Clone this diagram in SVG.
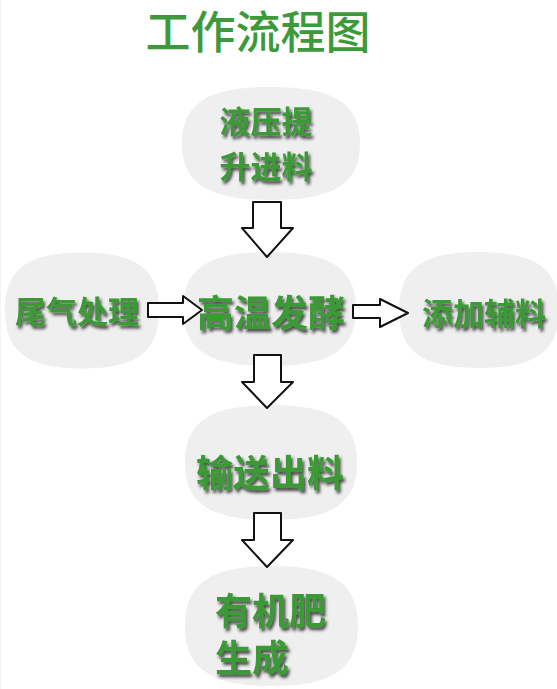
<svg xmlns="http://www.w3.org/2000/svg" width="557" height="689" viewBox="0 0 557 689">
<defs>
<path id="blob" d="M0,-1 C0.7,-1 1,-0.72 1,0 C1,0.72 0.7,1 0,1 C-0.7,1 -1,0.72 -1,0 C-1,-0.72 -0.7,-1 0,-1Z"/>
<filter id="sh" x="-10%" y="-20%" width="130%" height="150%">
<feDropShadow dx="2" dy="3" stdDeviation="1.8" flood-color="#222" flood-opacity="0.8"/>
</filter>
</defs>
<style>
.blob{fill:#efefef}
.lbl{font-family:"Noto Sans CJK SC","Noto Sans CJK JP",sans-serif;font-weight:bold;fill:#3b9a35;filter:url(#sh)}
.title{font-family:"Noto Sans CJK SC","Noto Sans CJK JP",sans-serif;font-weight:500;fill:#3c9a3a}
.arr{fill:#ffffff;stroke:#111;stroke-width:2;stroke-linejoin:round}
</style>
<rect width="557" height="689" fill="#ffffff"/>
<line x1="0.5" y1="0" x2="0.5" y2="689" stroke="#eef8ee" stroke-width="1"/>
<text class="title" x="258" y="49" font-size="45" text-anchor="middle">工作流程图</text>
<g id="node-hydraulic">
<use href="#blob" class="blob" transform="translate(271,143.5) scale(89,56.5)"/>
<text class="lbl" x="266" y="133" font-size="31" text-anchor="middle">液压提</text>
<text class="lbl" x="266" y="178" font-size="31" text-anchor="middle">升进料</text>
</g>
<g id="node-exhaust">
<use href="#blob" class="blob" transform="translate(82,310.5) scale(77,58)"/>
<text class="lbl" x="77" y="323" font-size="31" text-anchor="middle">尾气处理</text>
</g>
<g id="node-ferment">
<use href="#blob" class="blob" transform="translate(269.5,309) scale(86.5,57)"/>
<text class="lbl" x="271" y="327" font-size="37" text-anchor="middle">高温发酵</text>
</g>
<g id="node-additive">
<use href="#blob" class="blob" transform="translate(479,310) scale(80,58)"/>
<text class="lbl" x="484" y="325" font-size="31" text-anchor="middle">添加辅料</text>
</g>
<g id="node-output">
<use href="#blob" class="blob" transform="translate(271,462.5) scale(86,57.5)"/>
<text class="lbl" x="270" y="487" font-size="37" text-anchor="middle">输送出料</text>
</g>
<g id="node-fertilizer">
<use href="#blob" class="blob" transform="translate(271.5,626) scale(86.5,60)"/>
<text class="lbl" x="215" y="625" font-size="37">有机肥</text>
<text class="lbl" x="215" y="672" font-size="37">生成</text>
</g>
<g id="connectors">
<path class="arr" d="M253,202 H281 V228 H293 L267,257 L242,228 H253 Z"/>
<path class="arr" d="M254,355 H281 V382 H293 L267,408 L242,382 H254 Z"/>
<path class="arr" d="M254,513 H281 V540 H293 L267,567 L242,540 H254 Z"/>
<path class="arr" d="M148,303 H183 V296 L202,310 L183,324 V317 H148 Z"/>
<path class="arr" d="M353,305 H380 V299 L408,313 L380,327 V318 H353 Z"/>
</g>
</svg>
